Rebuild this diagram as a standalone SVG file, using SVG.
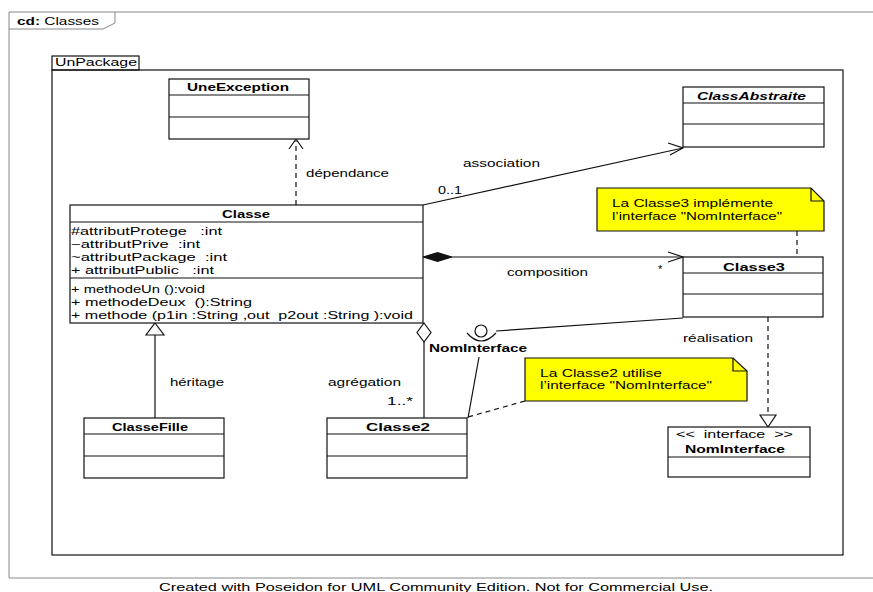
<svg xmlns="http://www.w3.org/2000/svg" width="873" height="592" viewBox="0 0 873 592">
<style>
text{font-family:"Liberation Sans",Arial,sans-serif;font-size:11px;fill:#000;white-space:pre}
.b{font-weight:bold}
.bi{font-weight:bold;font-style:italic}
.box{fill:#fff;stroke:#111;stroke-width:1.2}
.ln{stroke:#111;stroke-width:1.2;fill:none}
.dash{stroke:#111;stroke-width:1.2;fill:none;stroke-dasharray:5,4}
.note{fill:#ffff00;stroke:#111;stroke-width:1.2}
.frame{fill:none;stroke:#888;stroke-width:1}
</style>
<rect width="873" height="592" fill="#fff"/>
<g id="frame">
<path class="frame" d="M873,12 H9 V578 H873"/>
<path class="frame" d="M9,29 H103 L115,23 V12" fill="#fff"/>
<text x="17" y="25" textLength="82" lengthAdjust="spacingAndGlyphs"><tspan class="b">cd:</tspan> Classes</text>
</g>
<g id="package">
<rect x="52" y="56" width="87" height="14" class="box"/>
<rect x="52" y="70" width="791" height="485" class="box" style="fill:none"/>
<text x="55" y="66" textLength="82" lengthAdjust="spacingAndGlyphs">UnPackage</text>
</g>
<g id="connectors">
<path class="dash" d="M296,205 V141"/>
<path class="ln" d="M289,149 L296,139 L303,149"/>
<path class="ln" d="M423,205 L683,148"/>
<path class="ln" d="M668,143 L683,148 L670,155"/>
<path d="M423,257 L437.5,252.5 L452,257 L437.5,261.5 Z" fill="#111" stroke="#111"/>
<path class="ln" d="M452,257 H683"/>
<path class="ln" d="M668,252 L683,257 L668,262"/>
<path d="M424,323 L431,332.5 L424,342 L417,332.5 Z" fill="#fff" stroke="#111" stroke-width="1.2"/>
<path class="ln" d="M424,342 V418"/>
<path d="M155,323 L164,335 L146,335 Z" fill="#fff" stroke="#111" stroke-width="1.2"/>
<path class="ln" d="M155,335 V418"/>
<path class="dash" d="M768,317 V415"/>
<path d="M760,415 L776,415 L768,427 Z" fill="#fff" stroke="#111" stroke-width="1.2"/>
<path class="ln" d="M496,331 L683,318"/>
<path class="ln" d="M479,357 L468,418"/>
<path class="dash" d="M797,231 V257"/>
<path class="dash" d="M525,401 L468,417"/>
</g>
<g id="UneException">
<rect x="169" y="79" width="140" height="60" class="box"/>
<path class="ln" d="M169,95 H309 M169,117 H309"/>
<text x="187" y="91" class="b" textLength="102" lengthAdjust="spacingAndGlyphs">UneException</text>
</g>
<g id="ClassAbstraite">
<rect x="683" y="87" width="141" height="60" class="box"/>
<path class="ln" d="M683,103 H824 M683,124 H824"/>
<text x="697" y="100" class="bi" textLength="109" lengthAdjust="spacingAndGlyphs">ClassAbstraite</text>
</g>
<g id="Classe">
<rect x="70" y="205" width="353" height="118" class="box"/>
<path class="ln" d="M70,222 H423 M70,278 H423"/>
<text x="222" y="218" class="b" textLength="48" lengthAdjust="spacingAndGlyphs">Classe</text>
<text x="71" y="235" textLength="151" lengthAdjust="spacingAndGlyphs">#attributProtege   :int</text>
<text x="71" y="248" textLength="129" lengthAdjust="spacingAndGlyphs">−attributPrive  :int</text>
<text x="71" y="261" textLength="156" lengthAdjust="spacingAndGlyphs">~attributPackage  :int</text>
<text x="71" y="274" textLength="143" lengthAdjust="spacingAndGlyphs">+ attributPublic   :int</text>
<text x="71" y="293" textLength="134" lengthAdjust="spacingAndGlyphs">+ methodeUn ():void</text>
<text x="71" y="306" textLength="181" lengthAdjust="spacingAndGlyphs">+ methodeDeux  ():String</text>
<text x="71" y="319" textLength="342" lengthAdjust="spacingAndGlyphs">+ methode (p1in :String ,out  p2out :String ):void</text>
</g>
<g id="Classe3">
<rect x="683" y="257" width="140" height="60" class="box"/>
<path class="ln" d="M683,273 H823 M683,294 H823"/>
<text x="723" y="271" class="b" textLength="62" lengthAdjust="spacingAndGlyphs">Classe3</text>
</g>
<g id="Note1">
<path class="note" d="M597,188 H811 L824,201 V231 H597 Z"/>
<path class="ln" d="M811,188 V201 H824"/>
<text x="612" y="207" textLength="161" lengthAdjust="spacingAndGlyphs">La Classe3 implémente</text>
<text x="612" y="220" textLength="170" lengthAdjust="spacingAndGlyphs">l’interface "NomInterface"</text>
</g>
<g id="NomInterfaceLollipop">
<circle cx="481" cy="331" r="6" fill="#fff" stroke="#111" stroke-width="1.2"/>
<path class="ln" d="M467,333 Q481,349 496,333"/>
<text x="429" y="352" class="b" textLength="98" lengthAdjust="spacingAndGlyphs">NomInterface</text>
</g>
<g id="Note2">
<path class="note" d="M525,358 H733 L747,371 V401 H525 Z"/>
<path class="ln" d="M733,358 V371 H747"/>
<text x="540" y="377" textLength="122" lengthAdjust="spacingAndGlyphs">La Classe2 utilise</text>
<text x="540" y="389" textLength="172" lengthAdjust="spacingAndGlyphs">l’interface "NomInterface"</text>
</g>
<g id="ClasseFille">
<rect x="84" y="418" width="140" height="60" class="box"/>
<path class="ln" d="M84,434 H224 M84,456 H224"/>
<text x="112" y="431" class="b" textLength="76" lengthAdjust="spacingAndGlyphs">ClasseFille</text>
</g>
<g id="Classe2">
<rect x="327" y="418" width="140" height="60" class="box"/>
<path class="ln" d="M327,434 H467 M327,456 H467"/>
<text x="366" y="431" class="b" textLength="64" lengthAdjust="spacingAndGlyphs">Classe2</text>
</g>
<g id="NomInterface">
<rect x="668" y="427" width="142" height="50" class="box"/>
<path class="ln" d="M668,457 H810"/>
<text x="676" y="438" textLength="117" lengthAdjust="spacingAndGlyphs">&lt;&lt;  interface  &gt;&gt;</text>
<text x="685" y="453" class="b" textLength="100" lengthAdjust="spacingAndGlyphs">NomInterface</text>
</g>
<g id="labels">
<text x="306" y="177" textLength="83" lengthAdjust="spacingAndGlyphs">dépendance</text>
<text x="463" y="167" textLength="77" lengthAdjust="spacingAndGlyphs">association</text>
<text x="438" y="194" textLength="24" lengthAdjust="spacingAndGlyphs">0..1</text>
<text x="507" y="276" textLength="81" lengthAdjust="spacingAndGlyphs">composition</text>
<text x="658" y="273">*</text>
<text x="683" y="342" textLength="70" lengthAdjust="spacingAndGlyphs">réalisation</text>
<text x="170" y="386" textLength="54" lengthAdjust="spacingAndGlyphs">héritage</text>
<text x="328" y="386" textLength="73" lengthAdjust="spacingAndGlyphs">agrégation</text>
<text x="387" y="405" textLength="26" lengthAdjust="spacingAndGlyphs">1..*</text>
</g>
<text x="159" y="591" textLength="554" lengthAdjust="spacingAndGlyphs">Created with Poseidon for UML Community Edition. Not for Commercial Use.</text>
</svg>
